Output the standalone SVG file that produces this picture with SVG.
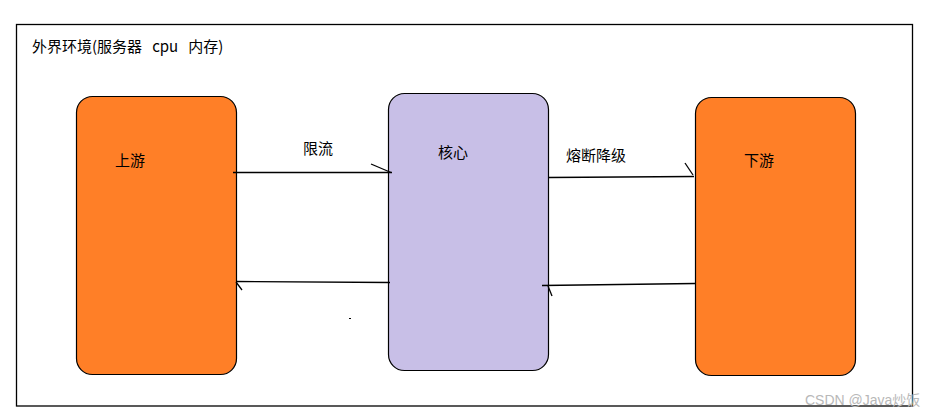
<svg xmlns="http://www.w3.org/2000/svg" width="942" height="419" viewBox="0 0 942 419">
<style>
.t{font-family:"Microsoft YaHei","Noto Sans CJK SC","Liberation Sans",sans-serif;font-size:15px;fill:#000}
.box{stroke:#000;stroke-width:1.2}
.orange{fill:#FF7F27}
.purple{fill:#C8BFE7}
.ln{stroke:#000;stroke-width:1.3;fill:none}
</style>
<rect x="0" y="0" width="942" height="419" fill="#fff"/>
<g id="environment">
<rect x="16.5" y="24.5" width="896" height="381.5" fill="none" stroke="#000" stroke-width="1.3"/>
<text class="t" x="32" y="52" xml:space="preserve" style="white-space:pre">外界环境(服务器   cpu   内存)</text>
</g>
<g id="upstream">
<rect class="box orange" x="76.5" y="96.5" width="160" height="278" rx="16" ry="16"/>
<text class="t" x="115" y="166">上游</text>
</g>
<g id="core">
<rect class="box purple" x="388.5" y="93.5" width="160" height="277" rx="16" ry="16"/>
<text class="t" x="438" y="158">核心</text>
</g>
<g id="downstream">
<rect class="box orange" x="695.5" y="97.5" width="160" height="278" rx="16" ry="16"/>
<text class="t" x="744" y="166">下游</text>
</g>
<g id="connectors">
<line class="ln" x1="233" y1="172.5" x2="392" y2="172.5"/>
<line class="ln" x1="371" y1="164" x2="391" y2="172.5"/>
<text class="t" x="303" y="154">限流</text>
<line class="ln" x1="390" y1="282.5" x2="236" y2="281.5"/>
<line class="ln" x1="236" y1="282" x2="242" y2="290"/>
<line class="ln" x1="548" y1="177.5" x2="694" y2="176.5"/>
<line class="ln" x1="685" y1="163" x2="693" y2="175"/>
<text class="t" x="566" y="161">熔断降级</text>
<line class="ln" x1="695" y1="283.5" x2="542" y2="285.5"/>
<line class="ln" x1="548" y1="286" x2="552" y2="296"/>
<rect x="349" y="318" width="2" height="1" fill="#000"/>
</g>
<text x="805" y="405" font-family="Liberation Sans,'Noto Sans CJK SC',sans-serif" font-size="14" fill="#b8b8b8">CSDN @Java炒饭</text>
</svg>
